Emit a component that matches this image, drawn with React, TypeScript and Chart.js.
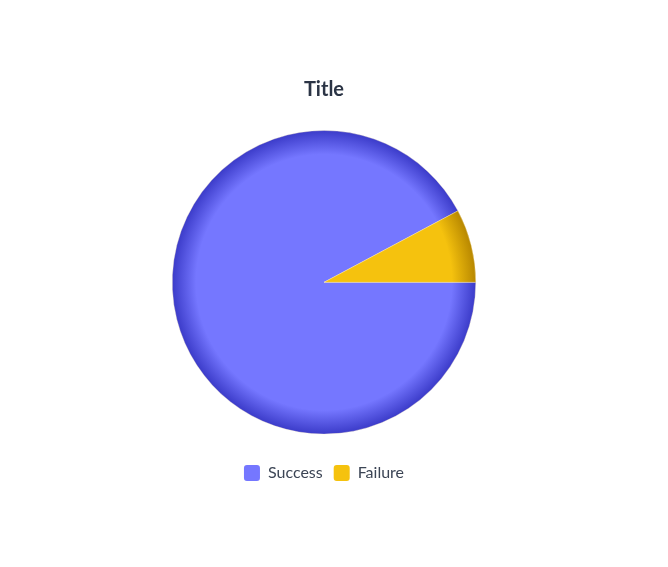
import React, { useEffect, useRef } from "react";
import { Chart, registerables } from "chart.js";

Chart.register(...registerables);

const labels = ["Success", "Failure"];
const values = [92.2, 7.8];
const baseColors = ["#7577FF", "#F5C20E"];
const rimColors = ["#3a3ac8", "#b68600"];

export default function App() {
  const ref = useRef<HTMLCanvasElement | null>(null);

  useEffect(() => {
    if (!ref.current) return;
    const chart = new Chart(ref.current, {
      type: "pie",
      data: {
        labels,
        datasets: [
          {
            data: values,
            backgroundColor: (ctx: any) => {
              const i = ctx.dataIndex ?? 0;
              const c = ctx.chart;
              const area = c.chartArea;
              if (!area) return baseColors[i];
              const cx = (area.left + area.right) / 2;
              const cy = (area.top + area.bottom) / 2;
              const r = Math.min(area.right - area.left, area.bottom - area.top) / 2;
              const g = c.ctx.createRadialGradient(cx, cy, 0, cx, cy, r);
              g.addColorStop(0, baseColors[i]);
              g.addColorStop(0.84, baseColors[i]);
              g.addColorStop(1, rimColors[i]);
              return g;
            },
            borderColor: "rgba(255,240,200,0.35)",
            borderWidth: 1,
          },
        ],
      },
      options: {
        animation: false,
        responsive: true,
        maintainAspectRatio: false,
        rotation: 90,
        layout: { padding: { top: 60, bottom: 68 } },
        plugins: {
          title: {
            display: true,
            text: "Title",
            color: "#2b3445",
            font: { family: "Lato", size: 20, weight: "bold" },
            padding: { top: 10, bottom: 28 },
          },
          legend: {
            position: "bottom",
            title: {
              display: true,
              text: " ",
              font: { family: "Lato", size: 10 },
              padding: { top: 0, bottom: 7.4 },
            },
            labels: {
              color: "#3c4555",
              font: { family: "Lato", size: 16 },
              boxWidth: 16,
              boxHeight: 16,
              padding: 11,
              useBorderRadius: true,
              borderRadius: 3,
              generateLabels: () =>
                labels.map((t, i) => ({
                  text: t,
                  fillStyle: baseColors[i],
                  strokeStyle: baseColors[i],
                  lineWidth: 0,
                  fontColor: "#3c4555",
                  hidden: false,
                  index: i,
                  borderRadius: 3,
                })),
            },
          },
          tooltip: { enabled: false },
        },
      },
    });
    return () => chart.destroy();
  }, []);

  return (
    <div style={{ width: 632, height: 551, position: "relative" }}>
      <canvas ref={ref} />
    </div>
  );
}
